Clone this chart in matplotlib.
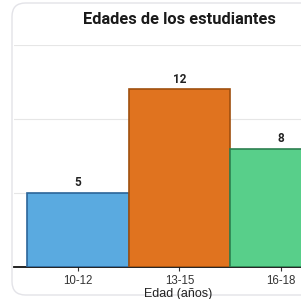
import matplotlib.pyplot as plt
from matplotlib.patches import FancyBboxPatch

# data
categories = ['10-12', '13-15', '16-18']
counts = [5, 12, 8]
colors = ['#5aaae0', '#e0731f', '#58cf8a']
edges = ['#2c6599', '#a0500f', '#2c8050']

plt.rcParams['font.family'] = ['Roboto', 'DejaVu Sans']

fig = plt.figure(figsize=(3.01, 2.99), dpi=100)
fig.patch.set_facecolor('white')

# card outline
card = FancyBboxPatch((12 / 301, 4 / 299), 1.2, 292 / 299,
                      boxstyle='round,pad=0,rounding_size=0.045',
                      transform=fig.transFigure, facecolor='white',
                      edgecolor='#e3e3e8', linewidth=1.0, zorder=-5)
fig.patches.append(card)

ax = fig.add_axes([14 / 301, 32 / 299, 287 / 301, 222 / 299])
ax.set_zorder(2)
ax.set_facecolor('none')

x = range(len(categories))
ax.bar(x, counts, width=1.0, color=colors, edgecolor=edges, linewidth=1.2, zorder=3)
for i, v in zip(x, counts):
    ax.text(i, v + 0.25, str(v), ha='center', va='bottom',
            fontsize=8.5, fontweight='bold', color='#222222', zorder=4)

ax.set_xlim(-0.63, 2.197)
ax.set_ylim(0, 15)
ax.set_yticks([5, 10, 15])
ax.yaxis.grid(True, color='#e6e6e6', linewidth=0.8, zorder=0)
ax.tick_params(axis='y', left=False, labelleft=False)
ax.set_xticks(list(x))
ax.set_xticklabels(categories, fontsize=8.3, color='#333333', family=['Liberation Sans', 'DejaVu Sans'])
ax.tick_params(axis='x', length=3, width=0.8, color='#333333', pad=2.5)
ax.set_xlabel('Edad (años)', fontsize=9, color='#222222',
              family=['Liberation Sans', 'DejaVu Sans'])
ax.xaxis.set_label_coords((178 - 14) / 287, -0.095)

for s in ['top', 'right', 'left']:
    ax.spines[s].set_visible(False)
ax.spines['bottom'].set_linewidth(1.3)
ax.spines['bottom'].set_color('#111111')

fig.text(179 / 301, 280 / 299, 'Edades de los estudiantes', ha='center', va='center',
         fontsize=11.8, fontweight='bold', color='#1a1a1a')

fig.savefig('out.png', dpi=100)
